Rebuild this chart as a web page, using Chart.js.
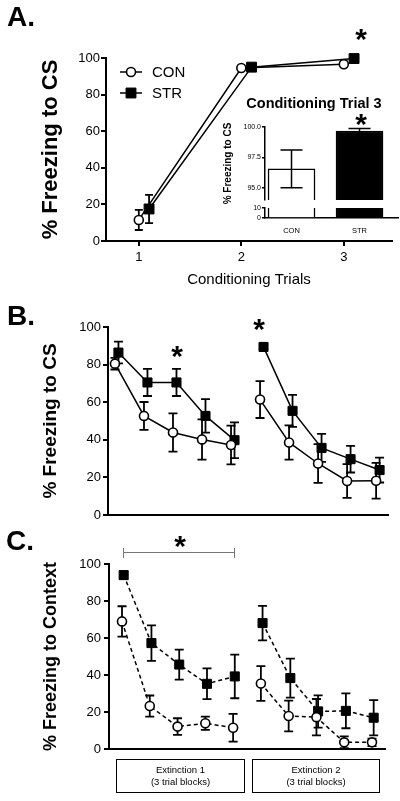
<!DOCTYPE html>
<html lang="en">
<head>
<meta charset="UTF-8">
<title>Freezing to CS / Context</title>
<script src="https://cdn.jsdelivr.net/npm/chart.js"></script>
<style>
    body { margin: 0; background: #fff; }
    #fig {
        position: relative; width: 400px; height: 801px; overflow: hidden;
        font-family: 'Liberation Sans', Arial, sans-serif; color: #000;
    }
    #fig canvas { position: absolute; }
    .lbl { position: absolute; font-weight: bold; font-size: 28px; line-height: 28px; }
    .star { position: absolute; width: 30px; text-align: center; font-weight: bold; font-size: 30px; line-height: 30px; }
    .inset-title { position: absolute; left: 234px; top: 95px; width: 160px; text-align: center;
        font-weight: bold; font-size: 14.5px; line-height: 16px; }
    .box { position: absolute; top: 759px; height: 34px; box-sizing: border-box; border: 1.5px solid #000;
        font-size: 9.5px; line-height: 12px; text-align: center;
        display: flex; flex-direction: column; justify-content: center; }
    .bracket { position: absolute; left: 123px; top: 548px; width: 112px; height: 10px; box-sizing: border-box;
        border-left: 1.5px solid #777; border-right: 1.5px solid #777; }
    .bracket div { position: absolute; left: 0; right: 0; top: 4px; border-top: 1.5px solid #777; }
</style>
</head>
<body>
<div id="fig">
    <canvas id="chartA" width="400" height="260" style="left:0;top:30px"></canvas>
    <canvas id="insetTop" width="200" height="100" style="left:200px;top:110px"></canvas>
    <canvas id="insetBottom" width="200" height="40" style="left:200px;top:200px"></canvas>
    <canvas id="chartB" width="400" height="225" style="left:0;top:300px"></canvas>
    <canvas id="chartC" width="400" height="225" style="left:0;top:535px"></canvas>

    <div class="lbl" style="left:7px;top:3px">A.</div>
    <div class="lbl" style="left:7px;top:302px">B.</div>
    <div class="lbl" style="left:6px;top:527px">C.</div>

    <div class="inset-title">Conditioning Trial 3</div>

    <div class="bracket"><div></div></div>

    <div class="box" style="left:116px;width:129px"><span>Extinction 1</span><span>(3 trial blocks)</span></div>
    <div class="box" style="left:252px;width:128px"><span>Extinction 2</span><span>(3 trial blocks)</span></div>
</div>

<script>
    const FONT = "'Liberation Sans', Arial, sans-serif";

    // Panel A - acquisition
    const condTrials = [1, 2, 3];
    const conA = [11.5, 94.5, 96.6];
    const conAsem = [5.5, 0.6, 1.5];
    const strA = [17.5, 95.0, 99.7];
    const strAsem = [7.7, 0.6, 0.2];

    // inset - conditioning trial 3
    const insetGroups = ['CON', 'STR'];
    const insetMean = [96.56, 99.67];
    const insetSem = [1.55, 0.2];

    // Panel B - freezing to CS, extinction 1 + 2
    const extTrials = [1, 2, 3, 4, 5, 6, 7, 8, 9, 10];
    const conB = [80.5, 52.7, 43.9, 40.2, 37.2, 61.4, 38.6, 27.4, 18.1, 18.2];
    const conBsem = [3.1, 7.4, 10.2, 10.7, 10.3, 9.8, 9.1, 10.3, 9.0, 9.5];
    const strB = [86.4, 70.5, 70.5, 52.7, 39.8, 89.4, 55.4, 35.7, 29.7, 23.9];
    const strBsem = [5.8, 7.2, 7.2, 8.9, 9.5, 2.2, 8.5, 7.4, 7.1, 6.6];

    // Panel C - freezing to context
    const conC = [69.0, 23.3, 12.2, 14.0, 11.6, 35.5, 17.9, 17.3, 3.7, 3.7];
    const conCsem = [8.2, 5.7, 4.5, 3.6, 7.5, 9.4, 8.3, 9.8, 3.2, 2.0];
    const strC = [94.0, 57.3, 45.7, 35.3, 39.3, 68.1, 38.4, 20.4, 20.7, 17.0];
    const strCsem = [2.0, 9.6, 8.1, 8.3, 11.8, 9.3, 10.5, 8.7, 9.4, 9.5];

    const yTicks = [0, 20, 40, 60, 80, 100];

    // stars (centre x, centre y)
    const stars = [[361, 33], [361, 118], [177, 350], [259, 323], [180, 540]];

    Chart.defaults.animation = false;
    Chart.defaults.font.family = FONT;
    Chart.defaults.color = '#000';
    Chart.defaults.plugins.legend.display = false;
    Chart.defaults.plugins.tooltip.enabled = false;

    // error bars from dataset.sem
    function drawErrors(chart, opts) {
        const ctx = chart.ctx;
        const ys = chart.scales.y;
        chart.data.datasets.forEach((ds, di) => {
            if (!ds.sem) return;
            const meta = chart.getDatasetMeta(di);
            meta.data.forEach((el, i) => {
                const raw = ds.data[i];
                const v = typeof raw === 'object' ? raw.y : raw;
                const top = ys.getPixelForValue(v + ds.sem[i]);
                const bot = ys.getPixelForValue(v - ds.sem[i]);
                const x = el.x, w = opts.cap;
                ctx.save();
                ctx.strokeStyle = '#000';
                ctx.lineWidth = opts.width;
                ctx.beginPath();
                ctx.moveTo(x, top); ctx.lineTo(x, bot);
                ctx.moveTo(x - w, top); ctx.lineTo(x + w, top);
                ctx.moveTo(x - w, bot); ctx.lineTo(x + w, bot);
                ctx.stroke();
                ctx.restore();
            });
        });
    }
    const errorBars = {
        id: 'errorBars',
        beforeDatasetsDraw(chart, args, opts) { if (!opts.onTop) drawErrors(chart, opts); },
        afterDatasetsDraw(chart, args, opts) { if (opts.onTop) drawErrors(chart, opts); }
    };

    // line + marker legend
    const lineLegend = {
        id: 'lineLegend',
        afterDraw(chart, args, opts) {
            const ctx = chart.ctx;
            chart.data.datasets.forEach((ds, i) => {
                const y = opts.y + i * opts.gap;
                const cx = opts.x + opts.len / 2;
                ctx.save();
                ctx.strokeStyle = '#000';
                ctx.lineWidth = 1.5;
                ctx.beginPath();
                ctx.moveTo(opts.x, y); ctx.lineTo(opts.x + opts.len, y);
                ctx.stroke();
                ctx.fillStyle = ds.pointBackgroundColor;
                ctx.lineWidth = ds.pointBorderWidth;
                ctx.beginPath();
                if (ds.pointStyle === 'rect') {
                    const s = ds.pointRadius * Math.SQRT1_2;
                    ctx.rect(cx - s, y - s, 2 * s, 2 * s);
                } else {
                    ctx.arc(cx, y, ds.pointRadius, 0, Math.PI * 2);
                }
                ctx.fill();
                ctx.stroke();
                ctx.fillStyle = '#000';
                ctx.font = opts.font;
                ctx.textBaseline = 'middle';
                ctx.fillText(ds.label, opts.x + opts.len + 10, y + 1);
                ctx.restore();
            });
        }
    };

    function fixedTicks(vals) {
        return s => { s.ticks = vals.map(v => ({ value: v })); };
    }

    function yAxis(width, min, max, ticks, tickFont, pad, title) {
        return {
            type: 'linear', min: min, max: max,
            afterFit: s => { s.width = width; },
            afterBuildTicks: fixedTicks(ticks),
            ticks: { font: { size: tickFont }, padding: pad, color: '#000' },
            grid: { drawOnChartArea: false, color: '#000', lineWidth: 2, tickLength: 5 },
            border: { color: '#000', width: 2 },
            title: title
        };
    }

    function conSet(label, data, sem, dashed) {
        return {
            label: label, data: data, sem: sem, clip: false,
            borderColor: '#000', borderWidth: 1.5, borderDash: dashed ? [4, 3] : [],
            pointStyle: 'circle', pointRadius: 4.5, pointBorderWidth: 1.6,
            pointBackgroundColor: '#fff', pointBorderColor: '#000',
            segment: { borderColor: c => (c.p0DataIndex === 4 && data.length === 10) ? 'rgba(0,0,0,0)' : '#000' }
        };
    }
    function strSet(label, data, sem, radius, dashed) {
        return {
            label: label, data: data, sem: sem, clip: false,
            borderColor: '#000', borderWidth: 1.5, borderDash: dashed ? [4, 3] : [],
            pointStyle: 'rect', pointRadius: radius, pointBorderWidth: 1,
            pointBackgroundColor: '#000', pointBorderColor: '#000',
            segment: { borderColor: c => (c.p0DataIndex === 4 && data.length === 10) ? 'rgba(0,0,0,0)' : '#000' }
        };
    }
    const pts = (xs, ys, off) => xs.map((x, i) => ({ x: x + off, y: ys[i] }));

    // ---- Panel A ----
    new Chart(document.getElementById('chartA'), {
        type: 'line',
        data: {
            datasets: [
                conSet('CON', pts(condTrials, conA, 0), conAsem, false),
                strSet('STR', pts(condTrials, strA, 0.1), strAsem, 7, false)
            ]
        },
        options: {
            responsive: false,
            layout: { padding: { top: 28, right: 2, left: 0, bottom: 0 } },
            scales: {
                x: {
                    type: 'linear', min: 0.68, max: 3.47,
                    afterFit: s => { s.height = 49; },
                    afterBuildTicks: fixedTicks(condTrials),
                    ticks: { font: { size: 13 }, padding: 4, color: '#000' },
                    grid: { drawOnChartArea: false, color: '#000', lineWidth: 2, tickLength: 5 },
                    border: { color: '#000', width: 2 },
                    title: { display: true, text: 'Conditioning Trials', font: { size: 15 }, padding: { top: 0, bottom: 1 } }
                },
                y: yAxis(106, 0, 100, yTicks, 13, 1,
                    { display: true, text: '% Freezing to CS', font: { size: 22, weight: 'bold' }, padding: { top: 38, bottom: 0 } })
            },
            plugins: {
                errorBars: { cap: 4, width: 1.8, onTop: false },
                lineLegend: { x: 120, y: 42, gap: 21, len: 22, font: '15px ' + FONT }
            }
        },
        plugins: [errorBars, lineLegend]
    });

    // ---- Inset (broken axis: top part 94-100, bottom part 0-10) ----
    function insetSets(withErr) {
        return [{
            data: insetGroups.map((g, i) => ({ x: i + 1, y: insetMean[i] })),
            sem: withErr ? insetSem : null,
            backgroundColor: ['#fff', '#000'],
            borderColor: '#000',
            borderWidth: 1.5,
            barThickness: 47
        }];
    }
    const insetX = (show, height) => ({
        type: 'linear', min: 0.61, max: 2.566, display: show, offset: false,
        afterFit: s => { s.height = height; },
        afterBuildTicks: fixedTicks([1, 2]),
        ticks: { font: { size: 7.5 }, padding: 0, color: '#000', autoSkip: false,
            callback: (v, i) => insetGroups[i] },
        grid: { display: false },
        border: { color: '#000', width: 1.5 }
    });
    const insetY = (min, max, ticks, title) => ({
        type: 'linear', min: min, max: max,
        afterFit: s => { s.width = 65; },
        afterBuildTicks: fixedTicks(ticks),
        ticks: { font: { size: 7 }, padding: 1, color: '#000', autoSkip: false,
            callback: v => (max > 50 ? v.toFixed(1) : String(v)) },
        grid: { drawOnChartArea: false, color: '#000', lineWidth: 1.5, tickLength: 3 },
        border: { color: '#000', width: 1.5 },
        title: title
    });

    new Chart(document.getElementById('insetTop'), {
        type: 'bar',
        data: { datasets: insetSets(true) },
        options: {
            responsive: false,
            layout: { padding: { top: 17, right: 2, left: 0, bottom: 10 } },
            scales: {
                x: insetX(false, 0),
                y: insetY(94, 100, [95, 97.5, 100],
                    { display: true, text: '% Freezing to CS', font: { size: 10, weight: 'bold' }, padding: { top: 22, bottom: 0 } })
            },
            plugins: { errorBars: { cap: 11, width: 1.5, onTop: true } }
        },
        plugins: [errorBars]
    });

    new Chart(document.getElementById('insetBottom'), {
        type: 'bar',
        data: { datasets: insetSets(false) },
        options: {
            responsive: false,
            layout: { padding: { top: 8, right: 2, left: 0, bottom: 0 } },
            scales: {
                x: insetX(true, 22),
                y: insetY(0, 10, [0, 10], { display: false })
            }
        }
    });

    // ---- Panel B ----
    new Chart(document.getElementById('chartB'), {
        type: 'line',
        data: {
            datasets: [
                conSet('CON', pts(extTrials, conB, 0), conBsem, false),
                strSet('STR', pts(extTrials, strB, 0.12), strBsem, 6.4, false)
            ]
        },
        options: {
            responsive: false,
            layout: { padding: { top: 27, right: 12, left: 0, bottom: 0 } },
            scales: {
                x: {
                    type: 'linear', min: 0.76, max: 10.41,
                    afterFit: s => { s.height = 10; },
                    ticks: { display: false },
                    grid: { display: false },
                    border: { color: '#000', width: 2 }
                },
                y: yAxis(108, 0, 100, yTicks, 13, 2,
                    { display: true, text: '% Freezing to CS', font: { size: 19, weight: 'bold' }, padding: { top: 39, bottom: 0 } })
            },
            plugins: { errorBars: { cap: 4.5, width: 1.8, onTop: false } }
        },
        plugins: [errorBars]
    });

    // ---- Panel C ----
    new Chart(document.getElementById('chartC'), {
        type: 'line',
        data: {
            datasets: [
                conSet('CON', pts(extTrials, conC, 0), conCsem, true),
                strSet('STR', pts(extTrials, strC, 0.06), strCsem, 6.4, true)
            ]
        },
        options: {
            responsive: false,
            layout: { padding: { top: 29, right: 15, left: 0, bottom: 0 } },
            scales: {
                x: {
                    type: 'linear', min: 0.532, max: 10.468,
                    afterFit: s => { s.height = 10; },
                    ticks: { display: false },
                    grid: { display: false },
                    border: { color: '#000', width: 2 }
                },
                y: yAxis(109, 0, 100, yTicks, 13, 3,
                    { display: true, text: '% Freezing to Context', font: { size: 18, weight: 'bold' }, padding: { top: 40, bottom: 0 } })
            },
            plugins: { errorBars: { cap: 4.5, width: 1.8, onTop: false } }
        },
        plugins: [errorBars]
    });

    // significance stars
    const fig = document.getElementById('fig');
    stars.forEach(([cx, cy]) => {
        const d = document.createElement('div');
        d.className = 'star';
        d.textContent = '*';
        d.style.left = (cx - 15) + 'px';
        d.style.top = (cy - 9) + 'px';
        fig.appendChild(d);
    });
</script>
</body>
</html>
